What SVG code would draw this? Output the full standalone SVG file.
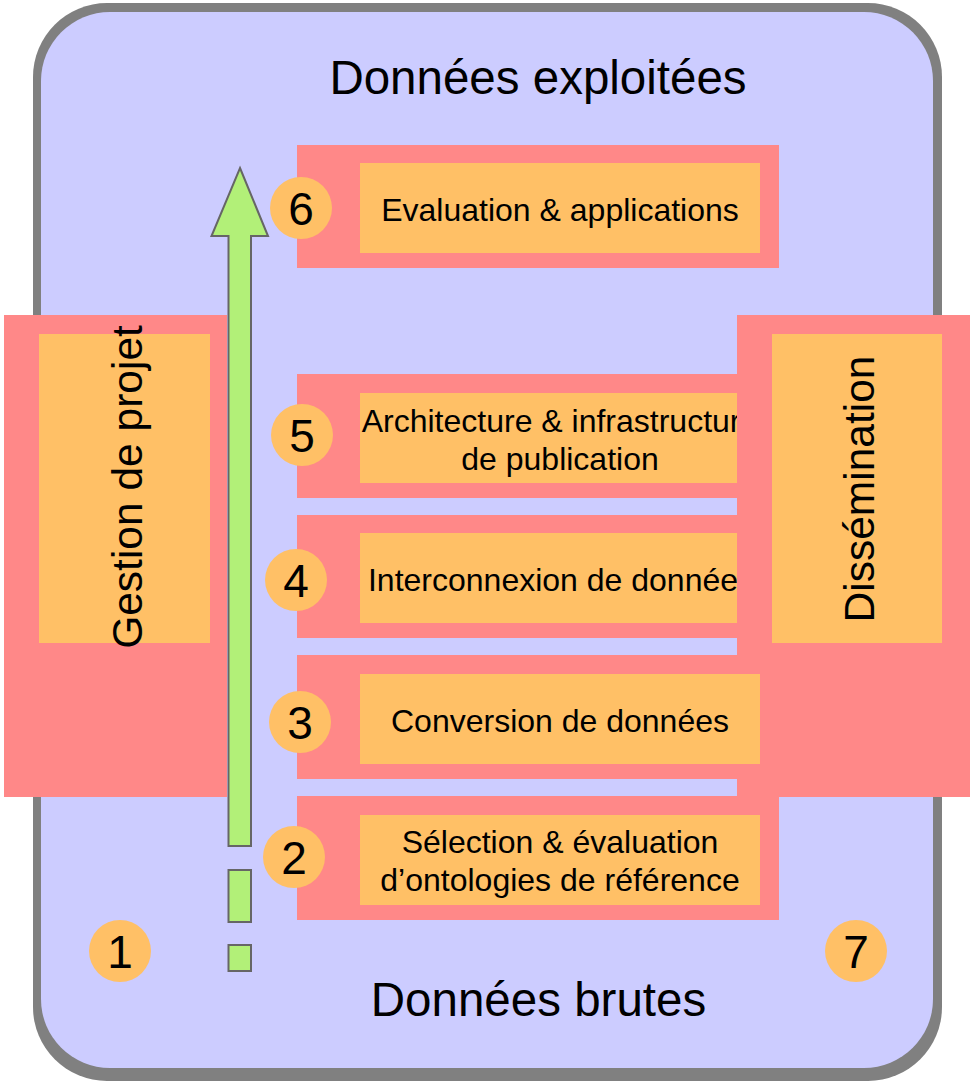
<svg xmlns="http://www.w3.org/2000/svg" width="970" height="1081" viewBox="0 0 970 1081">
<style>
.red{fill:#FF8888}
.org{fill:#FFC066}
.lbl{font-family:"Liberation Sans",Arial,sans-serif;font-size:32px;fill:#000;text-anchor:middle}
.big{font-family:"Liberation Sans",Arial,sans-serif;font-size:47.5px;fill:#000;text-anchor:middle}
.side{font-family:"Liberation Sans",Arial,sans-serif;font-size:42.5px;fill:#000;text-anchor:middle}
.num{font-family:"Liberation Sans",Arial,sans-serif;font-size:46px;fill:#000;text-anchor:middle}
.grn{fill:#B2F078;stroke:#666666;stroke-width:2}
</style>
<g id="frame">
<rect x="33" y="3" width="909" height="1078" rx="74" ry="74" fill="#808080"/>
<rect x="41" y="12" width="892" height="1056" rx="69" ry="69" fill="#CCCCFF"/>
<text class="big" x="538" y="94">Données exploitées</text>
<text class="big" x="538.5" y="1016">Données brutes</text>
</g>
<g id="step6">
<rect class="red" x="297" y="145" width="482" height="123"/>
<rect class="org" x="360" y="163" width="400" height="90"/>
<text class="lbl" x="560" y="221">Evaluation &amp; applications</text>
</g>
<g id="step5">
<rect class="red" x="297" y="374" width="482" height="124"/>
<rect class="org" x="360" y="393" width="400" height="90"/>
<text class="lbl" x="560" y="432">Architecture &amp; infrastructure</text>
<text class="lbl" x="560" y="470">de publication</text>
</g>
<g id="step4">
<rect class="red" x="297" y="515" width="482" height="123"/>
<rect class="org" x="360" y="533" width="400" height="90"/>
<text class="lbl" x="561" y="591">Interconnexion de données</text>
</g>
<g id="gestion">
<rect class="red" x="4" y="315" width="223" height="482"/>
<rect class="org" x="39" y="334" width="171" height="309"/>
<text class="side" transform="translate(142,487) rotate(-90)">Gestion de projet</text>
</g>
<g id="dissemination">
<rect class="red" x="737" y="315" width="233" height="482"/>
<rect class="org" x="772" y="334" width="170" height="309"/>
<text class="side" transform="translate(874,489) rotate(-90)">Dissémination</text>
</g>
<g id="step3">
<rect class="red" x="297" y="655" width="482" height="124"/>
<rect class="org" x="360" y="674" width="400" height="90"/>
<text class="lbl" x="560" y="732">Conversion de données</text>
</g>
<g id="step2">
<rect class="red" x="297" y="796" width="482" height="124"/>
<rect class="org" x="360" y="815" width="400" height="90"/>
<text class="lbl" x="560" y="853">Sélection &amp; évaluation</text>
<text class="lbl" x="560" y="891">d’ontologies de référence</text>
</g>
<g id="circles">
<g id="c1"><circle class="org" cx="120" cy="951" r="31"/><text class="num" x="120" y="968">1</text></g>
<g id="c2"><circle class="org" cx="294" cy="857" r="31"/><text class="num" x="294" y="874">2</text></g>
<g id="c3"><circle class="org" cx="300" cy="722" r="31"/><text class="num" x="300" y="739">3</text></g>
<g id="c4"><circle class="org" cx="296" cy="580" r="31"/><text class="num" x="296" y="597">4</text></g>
<g id="c5"><circle class="org" cx="302" cy="435" r="31"/><text class="num" x="302" y="452">5</text></g>
<g id="c6"><circle class="org" cx="301" cy="208" r="31"/><text class="num" x="301" y="225">6</text></g>
<g id="c7"><circle class="org" cx="856" cy="951" r="31"/><text class="num" x="856" y="968">7</text></g>
</g>
<g id="connectors">
<path class="grn" d="M240,168 L268,236 L251,236 L251,846 L228.5,846 L228.5,236 L211.5,236 Z"/>
<rect class="grn" x="228.5" y="870" width="22.5" height="52"/>
<rect class="grn" x="228.5" y="945" width="22.5" height="26"/>
</g>
</svg>
